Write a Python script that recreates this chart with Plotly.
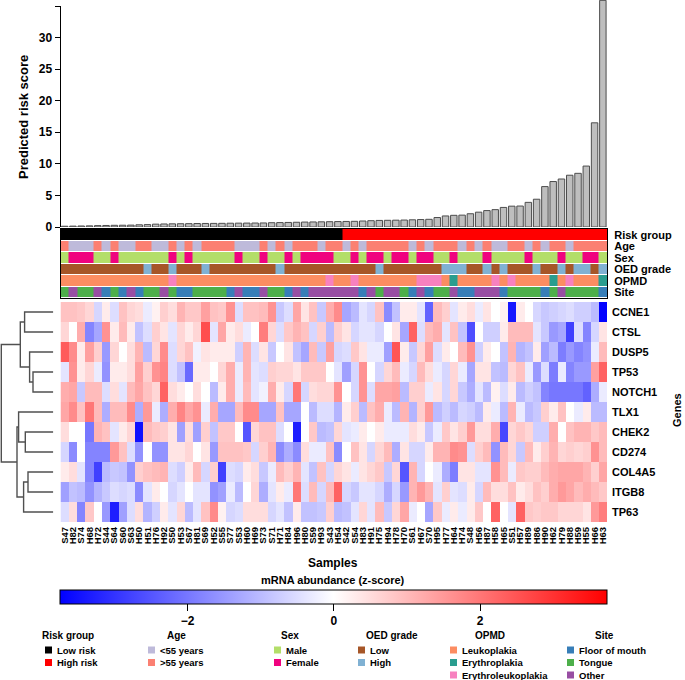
import plotly.graph_objects as go

W, H = 685, 680

samples = ["S47","H82","S74","H68","H72","S44","S64","S60","S63","H50","H51","H76","H92","S50","H53","S67",
           "H81","S69","H52","S55","S77","S53","H60","H69","S73","S71","H71","H84","H96","H80","S59","H93",
           "S43","H54","S42","S54","H83","H91","H75","H94","H78","H70","S61","H67","S70","H95","H77","H64",
           "H74","S48","H56","H87","H58","H65","S51","H57","H89","H86","H90","H62","H79","H88","H59","H55",
           "H66","H63"]

risk_score = [0.12,0.14,0.16,0.18,0.22,0.24,0.27,0.28,0.30,0.35,0.38,0.45,0.48,0.50,0.52,0.53,
              0.55,0.56,0.57,0.58,0.60,0.61,0.62,0.63,0.64,0.68,0.70,0.72,0.75,0.78,0.80,0.82,
              0.84,0.86,0.88,0.90,0.95,1.00,1.04,1.06,1.08,1.10,1.14,1.18,1.22,1.50,1.75,1.85,
              1.88,2.10,2.35,2.60,2.75,3.10,3.30,3.32,3.90,4.40,6.40,7.20,7.60,8.20,8.50,9.65,
              16.5,35.9]

L, Hr = "Low risk", "High risk"
risk_group = [L,L,L,L,L,L,L,L,L,L,L,L,L,L,L,L,L,L,L,L,L,L,L,L,L,L,L,L,L,L,L,L,L,L,
              Hr,Hr,Hr,Hr,Hr,Hr,Hr,Hr,Hr,Hr,Hr,Hr,Hr,Hr,Hr,Hr,Hr,Hr,Hr,Hr,Hr,Hr,Hr,Hr,Hr,Hr,Hr,Hr,Hr,Hr,Hr,Hr]

Y, O = "<55 years", ">55 years"
age = [O,Y,Y,Y,O,Y,O,Y,Y,O,O,Y,Y,O,Y,O,Y,O,O,O,O,Y,Y,Y,O,Y,O,Y,O,O,O,Y,O,O,
       Y,O,Y,O,O,O,O,O,Y,O,Y,O,O,O,Y,O,Y,O,Y,Y,O,O,Y,O,Y,O,O,Y,O,O,O,O]

M, F = "Male", "Female"
sex = [M,F,F,F,M,M,F,M,M,M,M,M,M,F,M,F,M,M,M,M,M,F,M,M,F,M,M,F,M,F,F,F,F,M,
       M,F,M,F,F,M,F,F,M,F,F,M,M,F,M,M,M,F,M,M,M,M,F,M,M,M,F,M,M,F,F,M]

Lo, Hi = "Low", "High"
oed = [Lo,Lo,Lo,Lo,Lo,Lo,Lo,Lo,Lo,Lo,Hi,Lo,Lo,Hi,Lo,Lo,Lo,Hi,Lo,Lo,Lo,Lo,Lo,Lo,Lo,Lo,Hi,Lo,Lo,Lo,Lo,Lo,Lo,Lo,
       Lo,Lo,Lo,Lo,Hi,Lo,Lo,Lo,Lo,Lo,Lo,Lo,Hi,Hi,Hi,Lo,Lo,Hi,Lo,Hi,Lo,Lo,Lo,Hi,Lo,Lo,Hi,Lo,Hi,Hi,Lo,Hi]

LK, ER, EL = "Leukoplakia", "Erythroplakia", "Erythroleukoplakia"
opmd = [LK,LK,LK,LK,LK,LK,LK,LK,LK,LK,LK,LK,LK,EL,LK,LK,LK,LK,LK,LK,LK,LK,LK,LK,LK,LK,LK,LK,LK,LK,LK,LK,EL,LK,
        LK,EL,LK,LK,LK,LK,LK,LK,LK,EL,EL,EL,LK,ER,LK,LK,LK,LK,EL,LK,EL,LK,LK,LK,LK,ER,LK,EL,LK,LK,LK,ER]

FM, TG, OT = "Floor of mouth", "Tongue", "Other"
site = [TG,OT,TG,TG,OT,FM,TG,FM,OT,FM,TG,TG,OT,TG,FM,FM,TG,TG,TG,TG,FM,OT,FM,FM,OT,TG,TG,FM,OT,FM,OT,OT,OT,OT,
        OT,OT,FM,OT,TG,OT,OT,TG,FM,OT,FM,TG,TG,OT,FM,FM,OT,OT,OT,FM,TG,TG,TG,TG,FM,TG,OT,TG,TG,TG,TG,FM]

annotation_names = ["Risk group", "Age", "Sex", "OED grade", "OPMD", "Site"]
annotation_levels = [["Low risk", "High risk"], ["<55 years", ">55 years"], ["Male", "Female"],
                     ["Low", "High"], ["Leukoplakia", "Erythroplakia", "Erythroleukoplakia"],
                     ["Floor of mouth", "Tongue", "Other"]]
annotation_colors = [["#000000", "#FF0000"], ["#BEBADA", "#FB8072"], ["#B3DE69", "#F0027F"],
                     ["#A65628", "#80B1D3"], ["#FC8D62", "#2A9D8F", "#F781BF"],
                     ["#377EB8", "#4DAF4A", "#984EA3"]]
annotation_values = [risk_group, age, sex, oed, opmd, site]

genes = ["CCNE1","CTSL","DUSP5","TP53","NOTCH1","TLX1","CHEK2","CD274","COL4A5","ITGB8","TP63"]

zscore = [
 [0.9,0.9,0.8,0.6,-0.6,0.3,-0.5,0.9,0.6,0.5,-0.3,0.2,0.7,0.5,1.1,0.8,0.8,1.4,0.9,0.8,1.6,-0.5,
  0.9,0.9,1.0,1.6,-0.8,-0.5,1.3,0.4,0.9,-0.8,1.2,1.7,-1.3,-1.0,-0.4,-0.6,0.9,-1.7,-0.9,0.3,0.3,-0.4,
  -2.3,1.0,0.7,-0.4,0.3,0.5,-0.3,0.4,0.0,0.2,-3.4,0.3,0.0,-0.6,-0.8,-0.7,-0.6,-0.5,-0.7,-0.7,-1.0,-3.7],
 [0.6,0.0,1.2,-1.8,-1.3,1.6,0.3,1.0,0.3,-0.9,-0.5,0.7,0.4,-0.4,0.6,0.3,0.6,2.6,-0.4,1.3,0.3,0.5,
  -0.3,0.0,1.9,0.6,-0.5,0.8,1.1,0.9,-0.6,0.7,-1.0,0.7,0.4,-0.6,-0.4,-0.4,-0.6,0.0,0.4,-1.3,2.3,-0.5,
  1.0,1.2,-0.4,0.9,-0.9,-2.6,0.0,-0.7,-0.7,0.3,1.0,1.0,1.0,-0.4,-0.8,-1.5,-1.3,-2.8,-0.5,-1.8,-0.6,0.4],
 [2.4,1.7,0.3,1.4,0.7,-1.5,0.6,0.0,0.5,1.1,-1.0,0.6,1.7,-0.5,0.6,0.9,-0.2,0.4,0.3,0.3,0.3,-0.7,
  1.1,-0.5,0.4,-0.8,0.0,0.4,-0.9,-1.3,1.0,-0.8,1.4,-0.6,-0.5,0.8,0.4,-0.3,-0.3,-1.4,2.5,0.3,-0.8,0.6,
  1.4,-0.5,0.3,0.0,1.0,1.6,-0.7,0.3,0.0,-0.9,1.1,-1.1,-0.9,0.3,-1.4,-1.0,-1.9,-1.5,-1.8,-1.6,-0.3,1.0],
 [-0.4,1.6,0.3,0.6,-0.3,-1.6,0.3,0.3,0.5,1.4,0.7,1.6,1.8,-0.5,-0.9,-2.2,0.3,0.3,0.0,0.6,1.2,-0.3,
  1.1,-0.4,-0.5,0.7,0.6,0.6,0.4,0.8,0.8,0.8,0.0,-0.4,-1.4,-0.6,1.6,0.0,-0.6,0.6,1.0,-0.3,-0.6,1.0,
  0.5,-0.3,-0.6,0.6,-0.3,-1.3,0.4,0.4,-0.9,-1.0,0.6,0.9,-0.3,-1.5,-0.5,-1.9,-0.3,-1.8,-1.5,-1.5,1.4,2.3],
 [1.2,1.3,-0.8,1.0,1.0,-0.5,0.5,-0.4,1.0,1.3,0.9,0.6,2.3,0.5,0.3,0.0,0.5,0.0,-1.0,0.3,1.2,-0.3,
  1.0,-0.4,-0.2,1.2,0.3,-0.6,2.0,-0.6,0.5,0.6,0.6,1.6,0.0,-0.6,1.6,-0.5,1.3,1.3,1.4,-1.0,0.7,0.7,
  -0.3,0.4,-0.6,0.6,-0.8,-1.2,-0.4,-1.0,0.2,-0.5,0.3,-1.0,-0.7,-0.9,-1.8,-2.0,-2.0,-2.0,-2.0,-2.3,-1.2,-0.3],
 [1.3,1.7,0.9,2.0,1.0,-1.2,1.0,1.0,1.7,-1.2,1.5,-0.3,-1.2,1.2,1.8,1.3,1.6,-0.3,1.2,-1.3,-1.3,1.0,
  1.7,1.7,-1.3,-1.3,0.9,-1.3,-1.3,0.0,-1.0,-0.5,-0.5,-1.1,0.3,0.7,-1.0,0.9,1.2,-0.3,-1.0,1.1,-1.1,0.7,
  1.5,-1.0,-0.7,-1.0,-0.6,-0.7,-1.0,0.3,-0.3,-1.0,1.1,-0.3,-1.0,-0.8,0.7,0.3,0.9,0.0,-0.3,0.3,-1.0,-1.0],
 [0.5,0.0,0.0,-2.0,1.1,0.9,-0.4,0.3,0.6,-3.5,1.0,0.8,0.7,0.4,-1.4,0.5,-1.4,0.7,-0.9,0.8,0.8,0.0,
  -2.5,0.6,0.9,0.9,-0.5,0.0,-3.3,0.0,0.8,-1.0,-0.9,0.6,-0.4,-0.3,0.3,0.0,0.3,-0.3,-0.3,-0.3,0.5,0.3,
  -0.8,-0.3,0.8,0.4,0.7,1.5,0.5,0.5,1.2,-2.7,0.6,0.8,0.6,-0.7,-0.7,1.2,0.0,0.9,1.1,1.1,0.8,1.0],
 [-0.6,-1.7,0.0,-1.8,-1.8,-1.8,1.5,0.9,-0.5,-1.6,0.0,-1.6,-1.6,0.4,0.4,0.6,0.0,0.4,-1.5,0.9,0.9,0.9,
  0.8,-0.6,0.7,1.1,-1.7,-1.2,-1.7,0.5,-0.3,-0.3,0.9,-1.7,0.0,0.9,0.4,-0.6,0.6,1.0,-1.2,0.4,-0.6,-0.6,
  0.3,1.1,1.1,1.7,1.6,-0.5,0.7,1.0,-1.6,1.0,0.6,-0.8,1.0,0.3,0.7,1.1,0.6,0.7,0.6,0.7,1.6,1.0],
 [0.3,0.5,-0.4,-1.8,-2.8,-1.0,-0.8,-0.9,-1.6,0.7,0.9,1.0,1.1,-0.5,-0.7,0.3,1.0,-0.6,0.7,-2.8,-0.5,-0.6,
  0.3,0.5,-0.8,-0.3,1.0,0.7,1.1,-0.4,-0.9,0.9,-0.6,0.6,0.4,-0.3,0.4,0.6,0.8,-0.8,0.6,-2.5,1.1,-0.6,
  0.0,-0.3,-1.2,-1.9,0.4,0.4,-0.4,-0.4,1.6,1.0,-0.3,0.8,0.7,0.7,1.0,1.2,1.3,1.3,1.3,1.1,0.7,1.3],
 [-1.4,-0.9,-1.0,-1.6,-1.1,-0.8,-0.5,-0.6,-0.5,-1.7,-0.4,0.3,0.0,-0.6,-0.4,0.0,-0.4,-0.4,-1.6,-1.4,-0.3,-1.0,
  0.0,0.6,-1.2,-0.4,0.3,-0.3,2.0,-0.5,1.0,-0.6,1.0,2.3,-0.6,-0.8,-0.4,-0.4,-0.6,-1.2,-0.6,-1.5,1.1,1.5,
  1.1,-0.4,0.7,-0.4,-0.5,0.3,-0.6,1.0,0.5,0.5,0.9,0.3,0.5,0.9,0.7,1.2,1.5,1.3,1.0,1.2,1.0,0.8],
 [-0.5,0.5,-1.8,0.8,0.0,-1.5,-3.3,-1.4,-0.5,0.5,-1.1,-0.7,0.3,-0.4,0.6,-1.0,-0.4,0.9,1.7,0.2,-0.6,-0.5,
  0.5,0.5,0.5,-0.6,-0.4,-0.9,0.3,-0.9,-0.9,-0.8,0.7,-1.0,-0.9,-0.4,0.6,-0.4,1.0,-0.8,0.6,1.3,-0.3,0.0,
  -1.3,0.8,-0.3,0.3,-0.3,0.3,0.8,0.0,2.3,0.0,-0.4,2.3,0.8,0.7,0.8,0.8,0.6,0.6,0.6,0.4,1.5,1.9],
]

# gene dendrogram: (left child, right child, merge height)
dendro_merges = [
    ("CCNE1", "CTSL", 28.7),
    ("TP53", "NOTCH1", 20.3),
    ("DUSP5", "m1", 23.7),
    ("m0", "m2", 33.0),
    ("CHEK2", "CD274", 28.0),
    ("TLX1", "m4", 34.7),
    ("COL4A5", "ITGB8", 25.3),
    ("m6", "TP63", 29.7),
    ("m5", "m7", 36.3),
    ("m3", "m8", 52.0),
]

z_limit = 3.74
cbar_ticks = [-2, 0, 2]
score_ticks = [0, 5, 10, 15, 20, 25, 30, 35]

# ---------------- layout geometry (pixels) ----------------
FONT = "Liberation Sans, Arial, sans-serif"
X0, X1 = 60.5, 607
def px_x(v): return v / W
def px_y(v): return 1 - v / H

fig = go.Figure()

# bar chart
fig.add_trace(go.Bar(x=samples, y=risk_score, width=0.78,
                     marker=dict(color="#BEBEBE", line=dict(color="#4D4D4D", width=1)),
                     xaxis="x", yaxis="y", showlegend=False))

# annotation rows
ann_z, ann_text = [], []
scale = []
offset = 0
n_codes = sum(len(l) for l in annotation_levels)
for levels, cols, vals in zip(annotation_levels, annotation_colors, annotation_values):
    ann_z.append([offset + levels.index(v) + 0.5 for v in vals])
    ann_text.append(vals)
    for k, c in enumerate(cols):
        scale.append([(offset + k) / n_codes, c])
        scale.append([(offset + k + 1) / n_codes, c])
    offset += len(levels)
fig.add_trace(go.Heatmap(z=ann_z, x=samples, y=list(range(len(annotation_names))), text=ann_text,
                         colorscale=scale, zmin=0, zmax=n_codes, showscale=False, ygap=1,
                         hovertemplate="%{x}: %{text}<extra></extra>",
                         xaxis="x2", yaxis="y2"))

# main heatmap
fig.add_trace(go.Heatmap(z=zscore, x=samples, y=list(range(len(genes))),
                         colorscale=[[0, "rgb(0,0,255)"], [0.5, "rgb(255,255,255)"], [1, "rgb(255,0,0)"]],
                         zmin=-z_limit, zmax=z_limit, xaxis="x3", yaxis="y3",
                         colorbar=dict(orientation="h", x=px_x((X0 + X1) / 2), xanchor="center",
                                       len=(X1 - X0) / W, lenmode="fraction",
                                       thickness=14, thicknessmode="pixels",
                                       y=px_y(590), yanchor="top", xpad=0, ypad=0,
                                       outlinewidth=1, outlinecolor="black",
                                       ticks="outside", ticklen=7, tickwidth=1, tickcolor="black",
                                       tickvals=cbar_ticks, ticktext=[str(t).replace("-", "\u2212") for t in cbar_ticks],
                                       tickfont=dict(family=FONT, size=12, color="black", weight="bold"))))

# dendrogram
pos = {g: (i, 0.0) for i, g in enumerate(genes)}
for k, (a, b, h) in enumerate(dendro_merges):
    ya, ha = pos[a]
    yb, hb = pos[b]
    fig.add_trace(go.Scatter(x=[ha, h, h, hb], y=[ya, ya, yb, yb], mode="lines",
                             line=dict(color="#505050", width=1.4), hoverinfo="skip",
                             showlegend=False, xaxis="x4", yaxis="y4"))
    pos["m%d" % k] = ((ya + yb) / 2, h)

bold = dict(family=FONT, color="black", weight="bold")
xdom = [px_x(X0), px_x(X1)]
xr = [-0.5, len(samples) - 0.5]
fig.update_layout(
    width=W, height=H, margin=dict(l=0, r=0, t=0, b=0, autoexpand=False),
    paper_bgcolor="white", plot_bgcolor="white",
    font=dict(family=FONT, color="black", weight="bold"),
    xaxis=dict(domain=xdom, range=xr, visible=False, anchor="y", automargin=False),
    yaxis=dict(domain=[px_y(227), 1], range=[0, 35.95], anchor="x", showgrid=False, zeroline=False,
               showline=False, ticks="outside", ticklen=5, tickwidth=1,
               tickcolor="black", tickvals=score_ticks, automargin=False,
               tickfont=dict(size=12, **bold)),
    xaxis2=dict(domain=xdom, range=xr, anchor="y2", showticklabels=False, ticks="", automargin=False,
                showline=True, mirror=True, linecolor="black", linewidth=1, showgrid=False, zeroline=False),
    yaxis2=dict(domain=[px_y(298), px_y(229)], range=[len(annotation_names) - 0.5, -0.5], anchor="x2",
                side="right", tickvals=list(range(len(annotation_names))), ticktext=annotation_names,
                ticks="", ticklabelstandoff=4, tickfont=dict(size=11, **bold), automargin=False,
                showline=True, mirror=True, linecolor="black", linewidth=1, showgrid=False, zeroline=False),
    xaxis3=dict(domain=xdom, range=xr, anchor="y3", tickangle=-90, ticks="", showline=False,
                tickmode="array", tickvals=samples, ticktext=samples, automargin=False,
                showgrid=False, zeroline=False, tickfont=dict(size=9.5, **bold), ticklabelstandoff=2),
    yaxis3=dict(domain=[px_y(522), px_y(302)], range=[len(genes) - 0.5, -0.5], anchor="x3",
                side="right", tickvals=list(range(len(genes))), ticktext=genes, ticks="", automargin=False,
                ticklabelstandoff=4, tickfont=dict(size=11, **bold), showgrid=False, zeroline=False),
    xaxis4=dict(domain=[0, px_x(53.3)], range=[53.3, 0], anchor="y4", visible=False, automargin=False),
    yaxis4=dict(domain=[px_y(522), px_y(302)], range=[len(genes) - 0.5, -0.5], anchor="x4",
                visible=False, automargin=False),
)

annotations = [
    dict(text="Predicted risk score", x=px_x(23), y=px_y(117), textangle=-90, font=dict(size=13, **bold)),
    dict(text="Samples", x=px_x(333), y=px_y(563), font=dict(size=12, **bold)),
    dict(text="Genes", x=px_x(677), y=px_y(410), textangle=-90, font=dict(size=11, **bold)),
    dict(text="mRNA abundance (z-score)", x=px_x(333), y=px_y(580), font=dict(size=11, **bold)),
]

# y axis line of the score panel, running from 0 to the top tick
shapes = [dict(type="line", xref="paper", yref="y", x0=px_x(X0), x1=px_x(X0),
               y0=score_ticks[0], y1=score_ticks[-1], line=dict(color="black", width=1))]

# legends
legend_title_cx = [68, 176, 290, 392, 490, 604]
legend_square_x = [45, 148, 274, 358, 450, 567]
legend_title_y, legend_row_y, legend_row_dy, sq = 635, 650, 12.5, 7
for name, levels, cols, tcx, sx in zip(annotation_names, annotation_levels, annotation_colors,
                                       legend_title_cx, legend_square_x):
    annotations.append(dict(text=name, x=px_x(tcx), y=px_y(legend_title_y), font=dict(size=10, **bold)))
    for k, (lab, c) in enumerate(zip(levels, cols)):
        yy = legend_row_y + k * legend_row_dy
        shapes.append(dict(type="rect", xref="paper", yref="paper", x0=px_x(sx), x1=px_x(sx + sq),
                           y0=px_y(yy - sq / 2), y1=px_y(yy + sq / 2), fillcolor=c, line=dict(width=0)))
        annotations.append(dict(text=lab.replace("<", "&lt;").replace(">", "&gt;"), x=px_x(sx + sq + 3),
                                y=px_y(yy), xanchor="left", font=dict(size=9.5, **bold)))

for a in annotations:
    a.setdefault("xanchor", "center")
    a.update(xref="paper", yref="paper", showarrow=False, yanchor="middle")
fig.update_layout(annotations=annotations, shapes=shapes)

fig.write_html("out.html", config={"displayModeBar": False},
               post_script="document.body.style.margin='0';document.body.style.padding='0';"
                           "document.documentElement.style.overflow='hidden';")
